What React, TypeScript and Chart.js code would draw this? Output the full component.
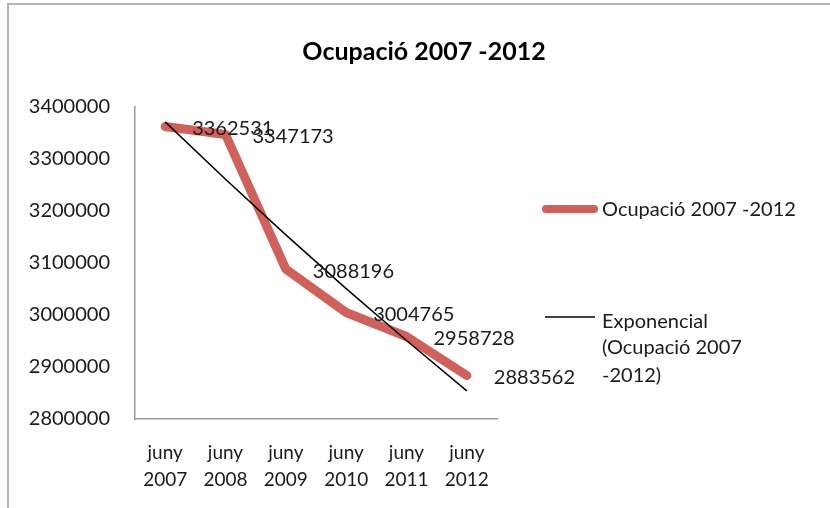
import { useEffect, useRef } from "react";
import { Chart, registerables } from "chart.js";

Chart.register(...registerables);

const TITLE = "Ocupació 2007 -2012";
const CATEGORY_MONTHS = ["juny", "juny", "juny", "juny", "juny", "juny"];
const CATEGORY_YEARS = ["2007", "2008", "2009", "2010", "2011", "2012"];
const OCUPACIO = [3362531, 3347173, 3088196, 3004765, 2958728, 2883562];
const Y_MIN = 2800000;
const Y_MAX = 3400000;
const Y_STEP = 100000;
const SERIES_LABEL = "Ocupació 2007 -2012";
const TREND_LABEL_LINES = ["Exponencial", "(Ocupació 2007", "-2012)"];

const FONT = "Lato, 'Open Sans', sans-serif";
const RED = "#d2605a";

// Excel-style exponential trendline: least squares on ln(y) against x = 1..n
function exponentialTrend(values: number[]): number[] {
  const n = values.length;
  const xs = values.map((_, i) => i + 1);
  const ls = values.map((v) => Math.log(v));
  const mx = xs.reduce((a, b) => a + b, 0) / n;
  const my = ls.reduce((a, b) => a + b, 0) / n;
  let sxy = 0;
  let sxx = 0;
  for (let i = 0; i < n; i++) {
    sxy += (xs[i] - mx) * (ls[i] - my);
    sxx += (xs[i] - mx) * (xs[i] - mx);
  }
  const b = sxy / sxx;
  const a = my - b * mx;
  return xs.map((x) => Math.exp(a + b * x));
}

const framePlugin = {
  id: "frame",
  beforeDraw(chart: any) {
    const ctx = chart.ctx;
    ctx.save();
    ctx.fillStyle = "#ffffff";
    ctx.fillRect(0, 0, chart.width, chart.height);
    ctx.strokeStyle = "#b4b4b4";
    ctx.lineWidth = 2;
    ctx.beginPath();
    ctx.moveTo(8, chart.height + 5);
    ctx.lineTo(8, 4);
    ctx.lineTo(chart.width + 5, 4);
    ctx.stroke();
    // title
    ctx.font = `bold 25px ${FONT}`;
    ctx.fillStyle = "#000000";
    ctx.textAlign = "center";
    ctx.textBaseline = "middle";
    ctx.fillText(TITLE, 424, 52);
    ctx.restore();
  },
};

const dataLabelPlugin = {
  id: "dataLabels",
  afterDatasetsDraw(chart: any) {
    const ctx = chart.ctx;
    const meta = chart.getDatasetMeta(0);
    const data = chart.data.datasets[0].data as number[];
    ctx.save();
    ctx.font = `20px ${FONT}`;
    ctx.fillStyle = "#1a1a1a";
    ctx.textAlign = "left";
    ctx.textBaseline = "middle";
    meta.data.forEach((pt: any, i: number) => {
      ctx.fillText(String(data[i]), pt.x + 27, pt.y + 2);
    });
    ctx.restore();
  },
};

const customLegendPlugin = {
  id: "customLegend",
  afterDraw(chart: any) {
    const ctx = chart.ctx;
    ctx.save();
    ctx.strokeStyle = RED;
    ctx.lineWidth = 8;
    ctx.lineCap = "round";
    ctx.beginPath();
    ctx.moveTo(546, 209);
    ctx.lineTo(594, 209);
    ctx.stroke();
    ctx.strokeStyle = "#000000";
    ctx.lineWidth = 1.5;
    ctx.lineCap = "butt";
    ctx.beginPath();
    ctx.moveTo(545, 317);
    ctx.lineTo(595, 317);
    ctx.stroke();

    ctx.font = `20px ${FONT}`;
    ctx.fillStyle = "#1a1a1a";
    ctx.textAlign = "left";
    ctx.textBaseline = "middle";
    ctx.fillText(SERIES_LABEL, 602, 210);
    const ys = [322, 348, 376];
    TREND_LABEL_LINES.forEach((t, i) => ctx.fillText(t, 602, ys[i]));
    ctx.restore();
  },
};

export default function App() {
  const ref = useRef<HTMLCanvasElement | null>(null);

  useEffect(() => {
    if (!ref.current) return;
    const trend = exponentialTrend(OCUPACIO);
    const labels = CATEGORY_MONTHS.map((m, i) => [m, CATEGORY_YEARS[i]]);
    const chart = new Chart(ref.current, {
      type: "line",
      data: {
        labels,
        datasets: [
          {
            label: SERIES_LABEL,
            data: OCUPACIO,
            borderColor: RED,
            backgroundColor: RED,
            borderWidth: 9,
            borderCapStyle: "round",
            borderJoinStyle: "round",
            pointRadius: 0,
            tension: 0,
            order: 2,
          },
          {
            label: "Exponencial (" + SERIES_LABEL + ")",
            data: trend,
            borderColor: "#000000",
            borderWidth: 1.5,
            pointRadius: 0,
            tension: 0,
            order: 1,
          },
        ],
      },
      options: {
        responsive: false,
        animation: false,
        layout: { padding: { left: 0, right: 333, top: 107, bottom: 0 } },
        plugins: {
          legend: { display: false },
          tooltip: { enabled: false },
          title: { display: false },
        },
        scales: {
          x: {
            type: "category",
            offset: true,
            grid: { display: false, drawTicks: false },
            border: { display: true, color: "#9a9a9a", width: 1.5 },
            ticks: {
              color: "#1a1a1a",
              font: { family: FONT, size: 19, lineHeight: 1.42 },
              padding: 20,
              maxRotation: 0,
              autoSkip: false,
            },
            afterFit(scale: any) {
              scale.height = 89;
            },
          },
          y: {
            min: Y_MIN,
            max: Y_MAX,
            grid: { display: false, drawTicks: false },
            border: { display: true, color: "#9a9a9a", width: 1.5 },
            ticks: {
              stepSize: Y_STEP,
              color: "#1a1a1a",
              font: { family: FONT, size: 20 },
              padding: 25,
              callback: (v: any) => String(v),
            },
            afterFit(scale: any) {
              scale.width = 135;
            },
          },
        },
      },
      plugins: [framePlugin, dataLabelPlugin, customLegendPlugin],
    });
    return () => chart.destroy();
  }, []);

  return (
    <div style={{ position: "fixed", left: 0, top: 0, width: 830, height: 508 }}>
      <canvas ref={ref} width={830} height={508} style={{ display: "block" }} />
    </div>
  );
}
